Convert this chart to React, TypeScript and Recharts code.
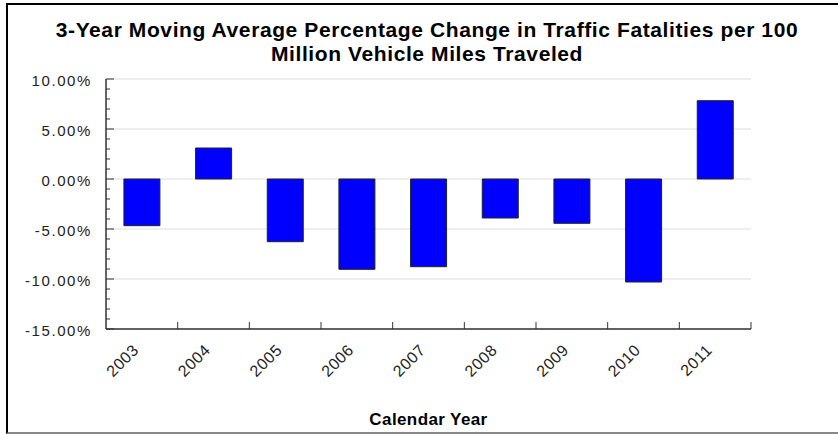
import { Bar, BarChart, CartesianGrid, XAxis, YAxis } from "recharts";

const years = ["2003", "2004", "2005", "2006", "2007", "2008", "2009", "2010", "2011"];
const pctChange = [-4.67, 3.1, -6.27, -9.03, -8.77, -3.9, -4.43, -10.3, 7.83];

const yTicks = [
  -15, -14, -13, -12, -11, -10, -9, -8, -7, -6, -5, -4, -3, -2, -1, 0, 1, 2, 3, 4, 5, 6, 7, 8, 9, 10,
];
const gridValues = [-15, -10, -5, 0, 5, 10];

const titleLines = [
  "3-Year Moving Average Percentage Change in Traffic Fatalities per 100",
  "Million Vehicle Miles Traveled",
];

const data = years.map((year, i) => ({ year, value: pctChange[i] }));

const font = "'Liberation Sans', Arial, sans-serif";
const Y_MARGIN = 14;
const X_MARGIN = 12;

function YTick(props: any) {
  const { x, y, payload } = props;
  const axisX = x + Y_MARGIN;
  const major = payload.value % 5 === 0;
  return (
    <g>
      <line x1={axisX} x2={axisX + (major ? 8 : 4)} y1={y} y2={y} stroke="#333" strokeWidth={1} />
      {major && (
        <text
          x={x}
          y={y + 2}
          dy="0.35em"
          textAnchor="end"
          fontFamily={font}
          fontSize={15}
          fill="#222"
          letterSpacing={1.6}
        >
          {payload.value.toFixed(2)}%
        </text>
      )}
    </g>
  );
}

function XTick(props: any) {
  const { x, y, payload, width } = props;
  const axisY = y - X_MARGIN;
  const half = payload.offset || width / years.length / 2;
  const bx = x + half;
  const lx = x - 6;
  const ly = y + 6;
  return (
    <g>
      <line x1={bx} x2={bx} y1={axisY} y2={axisY - 7} stroke="#333" strokeWidth={1} />
      <text
        x={lx}
        y={ly}
        textAnchor="end"
        dy="0.35em"
        transform={`rotate(-45 ${lx} ${ly})`}
        fontFamily={font}
        fontSize={16}
        letterSpacing={0.6}
        fill="#222"
      >
        {payload.value}
      </text>
    </g>
  );
}

export default function App() {
  return (
    <div
      style={{
        position: "absolute",
        left: 0,
        top: 0,
        width: 838,
        height: 434,
        overflow: "hidden",
        background: "#fff",
      }}
    >
      <div
        style={{
          position: "absolute",
          left: 6,
          top: 3,
          width: 900,
          height: 427,
          borderTop: "2px solid #000",
          borderLeft: "2px solid #000",
          borderBottom: "2px solid #888",
        }}
      />
      <svg width={838} height={80} style={{ position: "absolute", left: 0, top: 0 }}>
        {titleLines.map((line, i) => (
          <text
            key={line}
            x={427}
            y={37 + i * 24}
            textAnchor="middle"
            fontFamily={font}
            fontWeight="bold"
            fontSize={21}
            letterSpacing={0.6}
            fill="#000"
          >
            {line}
          </text>
        ))}
      </svg>
      <div style={{ position: "absolute", left: 0, top: 0 }}>
        <BarChart
          width={838}
          height={434}
          data={data}
          margin={{ top: 79, right: 87, left: 0, bottom: 0 }}
          barCategoryGap="25%"
        >
          <CartesianGrid
            vertical={false}
            stroke="#ddd"
            horizontalValues={gridValues}
          />
          <XAxis
            dataKey="year"
            height={105}
            tickSize={0}
            tickMargin={X_MARGIN}
            tickLine={false}
            axisLine={{ stroke: "#333", strokeWidth: 1.5 }}
            tick={<XTick />}
            interval={0}
            label={{
              value: "Calendar Year",
              position: "insideBottom",
              offset: 9,
              fontFamily: font,
              fontWeight: "bold",
              fontSize: 17,
              letterSpacing: 0.4,
              fill: "#000",
            }}
          />
          <YAxis
            width={106}
            domain={[-15, 10]}
            ticks={yTicks}
            interval={0}
            tickSize={0}
            tickMargin={Y_MARGIN}
            tickLine={false}
            axisLine={{ stroke: "#333", strokeWidth: 1.5 }}
            tick={<YTick />}
          />
          <Bar
            dataKey="value"
            fill="#0000ff"
            stroke="#222"
            strokeWidth={1}
            isAnimationActive={false}
          />
        </BarChart>
      </div>
    </div>
  );
}
